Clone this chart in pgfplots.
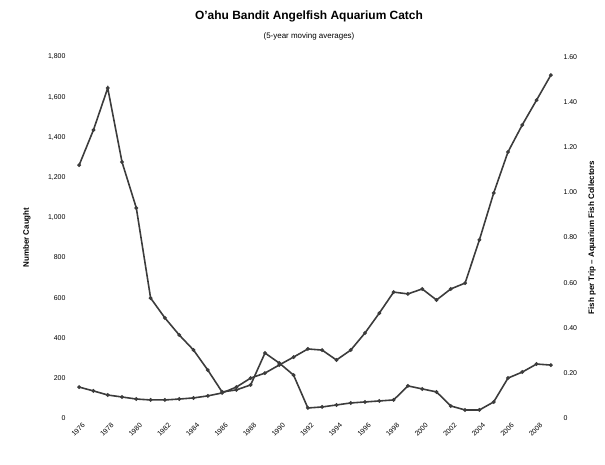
\documentclass[border=0pt]{standalone}
\usepackage{fontspec}
\setmainfont{Liberation Sans}
\usepackage{pgfplots}
\usepackage{pgfplotstable}
\pgfplotsset{compat=1.18}
\definecolor{linegray}{HTML}{3C3C3C}

% number caught (left axis)
\pgfplotstableread{
i  n
0  1261
1  1436
2  1645
3  1276
4  1047
5  598
6  499
7  414
8  339
9  239
10 130
11 140
12 165
13 324
14 274
15 214
16 50
17 55
18 65
19 75
20 80
21 85
22 90
23 160
24 145
25 130
26 60
27 40
28 40
29 80
30 199
31 229
32 269
33 264
}\caught

% fish per trip (right axis)
\pgfplotstableread{
i  f
0  0.137
1  0.120
2  0.102
3  0.093
4  0.084
5  0.080
6  0.080
7  0.084
8  0.089
9  0.098
10 0.111
11 0.137
12 0.177
13 0.199
14 0.235
15 0.270
16 0.306
17 0.301
18 0.257
19 0.301
20 0.377
21 0.465
22 0.558
23 0.550
24 0.572
25 0.523
26 0.572
27 0.598
28 0.789
29 0.997
30 1.179
31 1.299
32 1.409
33 1.520
}\pertrip

\begin{document}
\begin{tikzpicture}
\path[use as bounding box] (-72bp,-47bp) rectangle (533bp,418bp);
\node[font=\fontsize{12}{14}\selectfont\bfseries] at (237bp,402bp) {O'ahu Bandit Angelfish Aquarium Catch};
\node[font=\fontsize{8}{10}\selectfont] at (237bp,382bp) {(5-year moving averages)};

\begin{axis}[
    at={(0,0)}, anchor=south west,
    scale only axis,
    width=486bp, height=361bp,
    xmin=-0.5, xmax=33.5,
    ymin=0, ymax=1800,
    axis y line*=left,
    axis x line*=bottom,
    axis line style={draw=none},
    major tick length=0pt,
    xtick={0,2,...,32},
    xticklabels={1976,1978,1980,1982,1984,1986,1988,1990,1992,1994,1996,1998,2000,2002,2004,2006,2008},
    x tick label style={rotate=45, anchor=north east, font=\fontsize{7}{8}\selectfont, yshift=-4bp, inner sep=1pt},
    ytick={0,200,...,1800},
    yticklabel style={font=\fontsize{7}{8}\selectfont, xshift=-3bp},
    /pgf/number format/assume math mode=true,
    /pgf/number format/1000 sep={,},
    ylabel={\bfseries Number Caught},
    ylabel style={font=\fontsize{8}{9}\selectfont, at={(axis description cs:-0.093,0.5)}, anchor=center},
    clip=false,
]
\addplot[linegray, line width=1.6pt, mark=*, mark size=1pt] table[x=i, y=n] {\caught};
\end{axis}

\begin{axis}[
    at={(0,0)}, anchor=south west,
    scale only axis,
    width=486bp, height=361bp,
    xmin=-0.5, xmax=33.5,
    ymin=0, ymax=1.6,
    axis y line*=right,
    axis x line=none,
    axis line style={draw=none},
    major tick length=0pt,
    ytick={0,0.2,...,1.61},
    yticklabels={0,0.20,0.40,0.60,0.80,1.00,1.20,1.40,1.60},
    yticklabel style={font=\fontsize{7}{8}\selectfont, xshift=2bp},
    ylabel={\bfseries Fish per Trip -- Aquarium Fish Collectors},
    ylabel style={font=\fontsize{8}{9}\selectfont, at={(axis description cs:1.07,0.5)}, anchor=center},
    clip=false,
]
\addplot[linegray, line width=1.6pt, mark=*, mark size=1pt] table[x=i, y=f] {\pertrip};
\end{axis}
\end{tikzpicture}
\end{document}
